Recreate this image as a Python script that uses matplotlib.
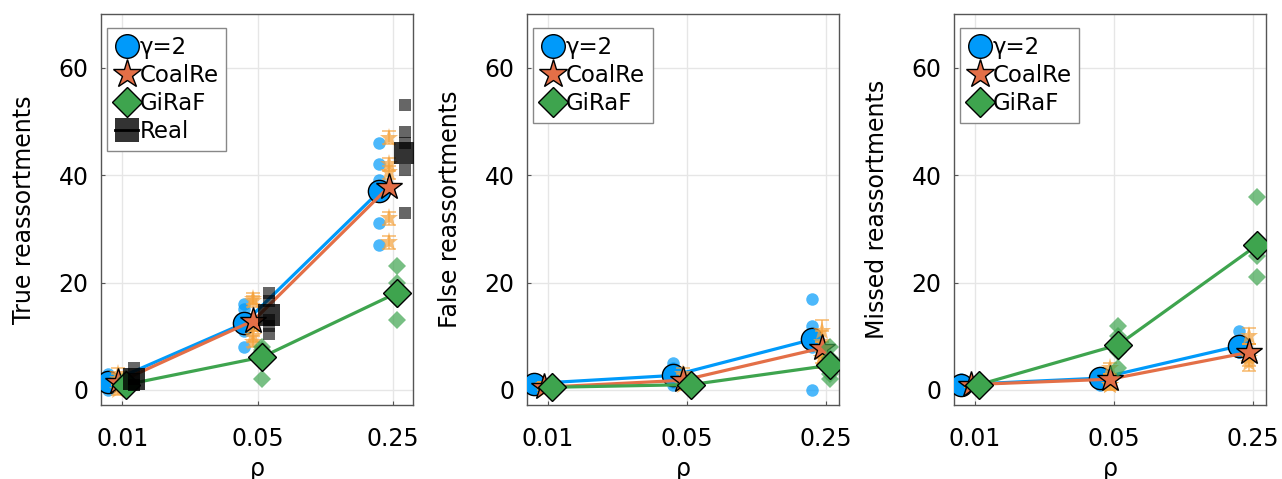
import matplotlib
matplotlib.use("Agg")
import matplotlib.pyplot as plt
from matplotlib.lines import Line2D
from matplotlib.legend_handler import HandlerTuple
import numpy as np

# reassortment rates on the x axis
rho = [0.01, 0.05, 0.25]
rho_labels = ["0.01", "0.05", "0.25"]

# per-run counts, one inner list per rho value
true_gamma = [[0, 1, 1, 2, 3], [16, 15, 12, 11, 8], [46, 42, 39, 31, 27]]
true_coalre = [[0, 1, 1, 2, 3], [17, 16.5, 12, 10, 9], [47, 42, 40.5, 32, 27.5]]
true_coalre_err = [[1, 1, 1, 1, 1], [1, 1, 1, 1, 1], [1.2, 1.2, 1.2, 1.2, 1.2]]
true_giraf = [[0, 1, 1, 1, 2], [8, 7.5, 7, 6, 2], [23, 20, 17.5, 17, 13]]
true_real = [[4, 2, 2, 1, 1], [18, 16.5, 13, 12, 10.5], [53, 48, 46, 41, 33]]

false_gamma = [[2, 1, 1, 1, 1], [5, 4, 2, 1, 1.5], [17, 12, 10, 8, 0]]
false_coalre = [[0, 1, 0, 1, 0.5], [2, 3, 1, 1.5, 1.5], [11, 9, 7, 6, 6]]
false_coalre_err = [[0.5, 0.5, 0.5, 0.5, 0.5], [1, 1, 1, 1, 1], [2, 2, 2, 2, 2]]
false_giraf = [[0, 1, 0, 1, 0.5], [1, 1, 1, 1, 1], [8, 6, 4, 3, 2]]

missed_gamma = [[2, 1, 1, 0, 1], [3, 2, 2, 1, 3], [11, 8, 8, 7, 7]]
missed_coalre = [[1, 1, 1, 1, 1], [4, 2, 1, 1, 2], [10, 7, 7, 6, 5]]
missed_coalre_err = [[0.5, 0.5, 0.5, 0.5, 0.5], [1, 1, 1, 1, 1], [1.5, 1.5, 1.5, 1.5, 1.5]]
missed_giraf = [[1, 1, 1, 1, 1], [12, 10, 9, 7, 4], [36, 27, 25, 21, 26]]

BLUE = "#009AFA"
ORANGE = "#E36F47"
GREEN = "#3EA44E"
LIGHT_ORANGE = "#F5A23C"

plt.rcParams["font.family"] = ["DejaVu Sans"]
plt.rcParams["font.size"] = 17

fig = plt.figure(figsize=(12.82, 4.79), dpi=100)
lefts = [0.0788, 0.4111, 0.7441]
bottom, width, height = 0.1545, 0.2434, 0.8163
xlims = [(0.00778, 0.317), (0.00784, 0.29), (0.00784, 0.29)]


def draw_method(ax, values, shift, color, marker, ms, z, err=None, pt_color=None):
    x = np.array(rho) * shift
    pc = pt_color or color
    for i, xi in enumerate(x):
        vals = values[i]
        xs = np.full(len(vals), xi)
        if err is not None:
            ax.errorbar(xs, vals, yerr=err[i], fmt="none", ecolor=LIGHT_ORANGE, alpha=0.7,
                        elinewidth=1.2, capsize=5, capthick=1.2, zorder=z)
        ax.plot(xs, vals, linestyle="none", marker=marker, ms=14 if marker == "*" else 9,
                color=pc, alpha=0.7, markeredgewidth=0, zorder=z)
    means = [np.mean(v) for v in values]
    ax.plot(x, means, "-", color=color, lw=2.3, zorder=z + 0.5)
    ax.plot(x, means, linestyle="none", marker=marker, ms=ms, color=color,
            markeredgecolor="black", markeredgewidth=1.0, zorder=z + 0.6)


panels = [
    ("True reassortments", true_gamma, true_coalre, true_coalre_err, true_giraf, true_real),
    ("False reassortments", false_gamma, false_coalre, false_coalre_err, false_giraf, None),
    ("Missed reassortments", missed_gamma, missed_coalre, missed_coalre_err, missed_giraf, None),
]

for k, (ylabel, g, c, cerr, gi, real) in enumerate(panels):
    ax = fig.add_axes([lefts[k], bottom, width, height])
    ax.set_xscale("log")
    draw_method(ax, g, 0.85, BLUE, "o", 16, 2)
    draw_method(ax, c, 0.95, ORANGE, "*", 20, 3, err=cerr, pt_color=LIGHT_ORANGE)
    draw_method(ax, gi, 1.05, GREEN, "D", 14, 4)
    if real is not None:
        xr = np.array(rho) * 1.15
        for xi, vals in zip(xr, real):
            ax.plot(np.full(len(vals), xi), vals, linestyle="none", marker="s", ms=9,
                    color="black", alpha=0.6, markeredgewidth=0, zorder=5)
        ax.plot(xr, [np.mean(v) for v in real], linestyle="none", marker="s", ms=16,
                color="black", alpha=0.8, markeredgewidth=0, zorder=5.5)

    ax.set_xlim(*xlims[k])
    ax.set_ylim(-2.8, 70)
    ax.set_xticks(rho)
    ax.set_xticklabels(rho_labels)
    ax.minorticks_off()
    ax.set_yticks([0, 20, 40, 60])
    ax.grid(True, color="#e6e6e6", lw=1.0)
    ax.set_axisbelow(True)
    ax.tick_params(direction="in", length=3, color="#555555")
    ax.tick_params(axis="x", pad=16)
    ax.tick_params(axis="y", pad=9)
    for sp in ax.spines.values():
        sp.set_color("#555555")
        sp.set_linewidth(1.0)
    ax.set_xlabel("ρ", labelpad=4)
    ax.set_ylabel(ylabel, labelpad=16)

    handles = [
        Line2D([], [], linestyle="none", marker="o", ms=17, color=BLUE, markeredgecolor="black"),
        Line2D([], [], linestyle="none", marker="*", ms=21, color=ORANGE, markeredgecolor="black"),
        Line2D([], [], linestyle="none", marker="D", ms=15, color=GREEN, markeredgecolor="black"),
    ]
    labels = ["γ=2", "CoalRe", "GiRaF"]
    if real is not None:
        sq = Line2D([], [], linestyle="none", marker="s", ms=17, color="#333333",
                    markeredgewidth=0)
        ln = Line2D([], [], color="black", lw=2)
        handles.append((sq, ln))
        labels.append("Real")
    leg = ax.legend(handles, labels, loc="upper left", bbox_to_anchor=(0.02, 0.965),
                    borderaxespad=0, fontsize=16.5, handlelength=1.0, handletextpad=0.05,
                    labelspacing=0.22, borderpad=0.35, fancybox=False, framealpha=1,
                    edgecolor="#888888",
                    handler_map={tuple: HandlerTuple(ndivide=1, pad=0)})
    leg.get_frame().set_linewidth(1.0)

fig.savefig("out.png", dpi=100)
